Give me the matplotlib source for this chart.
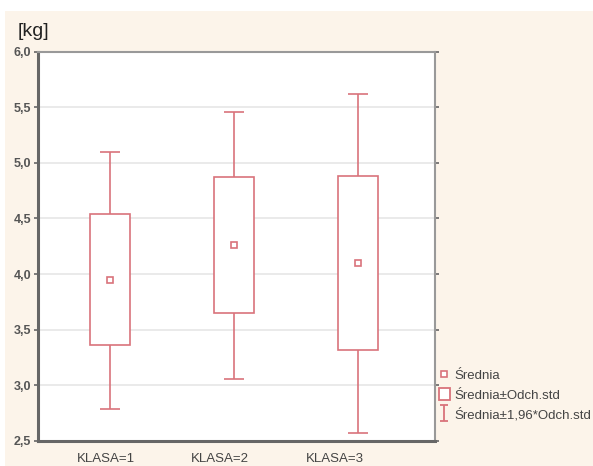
import matplotlib
matplotlib.use("Agg")
import matplotlib.pyplot as plt
from matplotlib.patches import Rectangle
from matplotlib.lines import Line2D
from matplotlib.path import Path

plt.rcParams['font.family'] = ['Liberation Sans', 'DejaVu Sans']

categories = ["KLASA=1", "KLASA=2", "KLASA=3"]
means = [3.95, 4.26, 4.10]
sd_low = [3.36, 3.65, 3.32]
sd_high = [4.54, 4.87, 4.88]
ci_low = [2.79, 3.06, 2.57]
ci_high = [5.10, 5.46, 5.62]
yticks = [2.5, 3.0, 3.5, 4.0, 4.5, 5.0, 5.5, 6.0]
ytick_labels = ["2,5", "3,0", "3,5", "4,0", "4,5", "5,0", "5,5", "6,0"]

red = '#d9737b'
cream = '#fcf4ea'

fig = plt.figure(figsize=(5.93, 4.66), dpi=100)
fig.patch.set_facecolor('white')
bg = Rectangle((5 / 593, 0), 1 - 5 / 593, 1 - 11 / 466, transform=fig.transFigure,
               facecolor=cream, edgecolor='none', zorder=-10)
fig.patches.append(bg)

ax = fig.add_axes([38 / 593, 1 - 441 / 466, (435 - 38) / 593, (441 - 51.5) / 466])
ax.set_facecolor('white')

pos = [1, 2, 3]
bw = 0.32
cw = 0.16
for x, m, lo, hi, wl, wh in zip(pos, means, sd_low, sd_high, ci_low, ci_high):
    ax.add_patch(Rectangle((x - bw / 2, lo), bw, hi - lo, facecolor='white',
                           edgecolor=red, linewidth=1.2, zorder=3))
    ax.vlines(x, hi, wh, color=red, linewidth=1.2, zorder=2)
    ax.vlines(x, wl, lo, color=red, linewidth=1.2, zorder=2)
    ax.hlines([wl, wh], x - cw / 2, x + cw / 2, color=red, linewidth=1.2, zorder=2)
    ax.plot([x], [m], marker='s', markersize=5, markerfacecolor='white',
            markeredgecolor=red, markeredgewidth=1.2, zorder=4)

ax.set_xlim(0.42, 3.62)
ax.set_ylim(2.5, 6.0)
ax.set_yticks(yticks)
ax.set_yticklabels(ytick_labels)
ax.grid(axis='y', color='#e6e6e6', linewidth=1.2, zorder=0)
ax.set_axisbelow(True)

ax.set_xticks([0.97, 1.89, 2.81])
ax.set_xticklabels(categories)
ax.tick_params(axis='x', length=0, pad=9, labelsize=9.5, labelcolor='#444444')
ax.tick_params(axis='y', length=3, width=1.2, color='#666666', pad=2,
               labelsize=9, labelcolor='#555555', right=True, direction='out')
for lab in ax.get_yticklabels():
    lab.set_fontweight('bold')

for s in ['left', 'bottom']:
    ax.spines[s].set_color('#666666')
    ax.spines[s].set_linewidth(2.2)
for s in ['top', 'right']:
    ax.spines[s].set_color('#999999')
    ax.spines[s].set_linewidth(1.5)

fig.text(18 / 593, 1 - 31 / 466, "[kg]", fontsize=14, color='#222222',
         va='center', ha='left')

ibar = Path([(-0.5, -1), (0.5, -1), (0, -1), (0, 1), (-0.5, 1), (0.5, 1)],
            [Path.MOVETO, Path.LINETO, Path.MOVETO, Path.LINETO, Path.MOVETO, Path.LINETO])
handles = [
    Line2D([], [], linestyle='none', marker='s', markersize=4, markerfacecolor='white',
           markeredgecolor=red, markeredgewidth=1.2),
    Rectangle((0, 0), 1, 1, facecolor='white', edgecolor=red, linewidth=1.3),
    Line2D([], [], linestyle='none', marker=ibar, markersize=11, markerfacecolor='none',
           markeredgecolor=red, markeredgewidth=1.3),
]
labels = ["Średnia", "Średnia±Odch.std", "Średnia±1,96*Odch.std"]
leg = fig.legend(handles, labels, loc='upper left', bbox_to_anchor=(439 / 593, 1 - 369 / 466),
                 frameon=False, fontsize=9.5, handlelength=0.8, handleheight=1.0,
                 handletextpad=0.4, labelspacing=0.45, borderaxespad=0, borderpad=0)
for t in leg.get_texts():
    t.set_color('#444444')

fig.savefig("out.png", dpi=100, facecolor=fig.get_facecolor())
